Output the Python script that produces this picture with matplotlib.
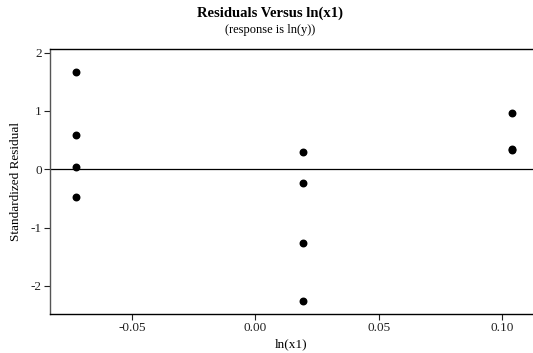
import matplotlib
matplotlib.use("Agg")
import matplotlib.pyplot as plt
from matplotlib.ticker import FormatStrFormatter

plt.rcParams['font.family'] = ['Liberation Serif', 'DejaVu Serif']
plt.rcParams['axes.unicode_minus'] = False

# data
ln_x1 = [-0.073, -0.073, -0.073, -0.073,
         0.0193, 0.0193, 0.0193, 0.0193,
         0.1043, 0.1043, 0.1043]
std_resid = [1.67, 0.58, 0.03, -0.48,
             0.29, -0.24, -1.27, -2.25,
             0.96, 0.34, 0.33]
x_ticks = [-0.05, 0.00, 0.05, 0.10]
y_ticks = [-2, -1, 0, 1, 2]

fig = plt.figure(figsize=(5.33, 3.53), dpi=100)
ax = fig.add_axes([50 / 533, 39 / 353, 483 / 533, 265 / 353])

ax.axhline(0, color='black', linewidth=0.9, zorder=1)
ax.scatter(ln_x1, std_resid, s=22, color='black', zorder=2)

ax.set_xlim(-0.0834, 0.1127)
ax.set_ylim(-2.48, 2.06)
ax.set_xticks(x_ticks)
ax.set_yticks(y_ticks)
ax.xaxis.set_major_formatter(FormatStrFormatter('%.2f'))

for side in ['left', 'bottom', 'top']:
    ax.spines[side].set_linewidth(1.0)
ax.spines['left'].set_color('#555555')
ax.spines['right'].set_visible(False)
ax.tick_params(direction='out', length=4, width=0.8, labelsize=9.5, pad=2,
               colors='#222222')

ax.set_xlabel('ln(x1)', fontsize=9.5, labelpad=3)
ax.set_ylabel('Standardized Residual', fontsize=9.5, labelpad=6)

fig.text(0.507, 0.963, 'Residuals Versus ln(x1)', ha='center', va='center',
         fontsize=10.5, fontweight='bold')
fig.text(0.507, 0.914, '(response is ln(y))', ha='center', va='center', fontsize=9)

fig.savefig('out.png', dpi=100)
